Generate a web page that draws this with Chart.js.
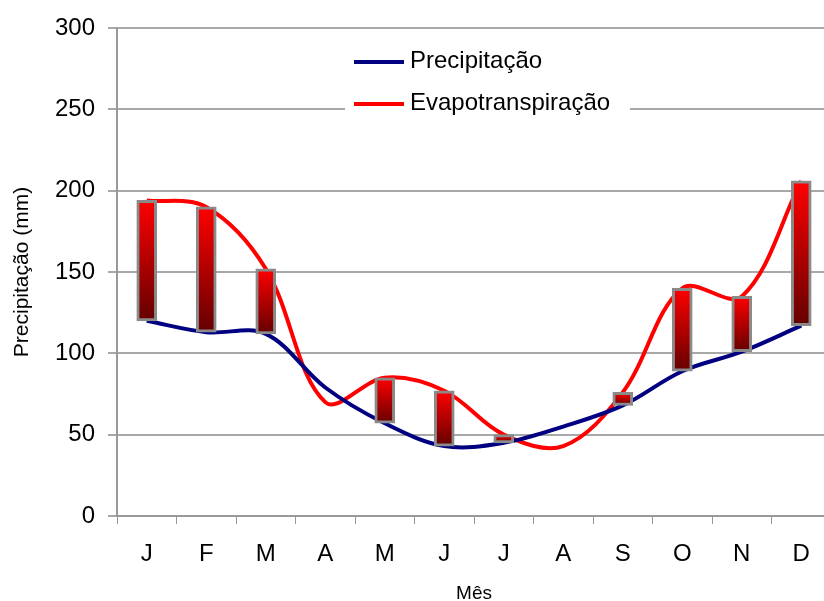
<!DOCTYPE html>
<html>
<head>
<meta charset="utf-8">
<script src="https://cdn.jsdelivr.net/npm/chart.js@4.4.0/dist/chart.umd.min.js"></script>
<style>
    html, body { margin: 0; padding: 0; background: #fff; overflow: hidden; }
    #wrap { width: 834px; height: 610px; }
</style>
</head>
<body>
<div id="wrap"><canvas id="chart" width="834" height="610"></canvas></div>
<script>
const months = ["J", "F", "M", "A", "M", "J", "J", "A", "S", "O", "N", "D"];
const precipitacao = [120, 113, 112, 79, 57, 43, 45, 55, 68, 89, 101, 117];
const evapotranspiracao = [194, 190, 152, 70, 85, 77, 50, 43, 76, 140, 135, 206];
const yTicks = [0, 50, 100, 150, 200, 250, 300];

const fontFamily = "'Liberation Sans', Arial, sans-serif";

// up bars only: where evapotranspiration is above precipitation
const upBars = precipitacao.map((p, i) =>
    evapotranspiracao[i] > p ? [p, evapotranspiracao[i]] : null
);

function barGradient(context) {
    const chart = context.chart;
    if (!chart.chartArea || context.type !== "data" || !context.raw) {
        return "#b00000";
    }
    const y = chart.scales.y;
    const top = y.getPixelForValue(context.raw[1]);
    const bottom = y.getPixelForValue(context.raw[0]);
    const g = chart.ctx.createLinearGradient(0, top, 0, bottom);
    g.addColorStop(0, "#ff0000");
    g.addColorStop(1, "#640000");
    return g;
}

const legendBox = {
    id: "legendBox",
    afterDraw(chart) {
        const ctx = chart.ctx;
        const items = chart.data.datasets.filter(d => d.type === "line");
        ctx.save();
        ctx.fillStyle = "#fff";
        ctx.fillRect(345, 45, 285, 73);
        ctx.font = "24px " + fontFamily;
        ctx.textBaseline = "middle";
        items.forEach((d, i) => {
            const y = 62 + i * 42;
            ctx.strokeStyle = d.borderColor;
            ctx.lineWidth = 4;
            ctx.beginPath();
            ctx.moveTo(354, y);
            ctx.lineTo(404, y);
            ctx.stroke();
            ctx.fillStyle = "#000";
            ctx.fillText(d.label, 410, y - 1);
        });
        ctx.restore();
    }
};

new Chart(document.getElementById("chart"), {
    data: {
        labels: months,
        datasets: [
            {
                type: "bar",
                label: "Diferença",
                data: upBars,
                backgroundColor: barGradient,
                borderColor: "#8a8a8a",
                borderWidth: 3,
                borderSkipped: false,
                barThickness: 20,
                order: 0
            },
            {
                type: "line",
                label: "Precipitação",
                data: precipitacao,
                borderColor: "#000080",
                borderWidth: 4,
                pointRadius: 0,
                tension: 0.35,
                fill: false,
                order: 1
            },
            {
                type: "line",
                label: "Evapotranspiração",
                data: evapotranspiracao,
                borderColor: "#ff0000",
                borderWidth: 4,
                pointRadius: 0,
                tension: 0.35,
                fill: false,
                order: 2
            }
        ]
    },
    options: {
        responsive: false,
        animation: false,
        devicePixelRatio: 1,
        layout: { padding: { top: 28, right: 3, left: 0, bottom: 0 } },
        plugins: {
            legend: { display: false },
            tooltip: { enabled: false }
        },
        scales: {
            x: {
                type: "category",
                offset: true,
                afterFit: scale => { scale.height = 94; },
                grid: {
                    offset: true,
                    drawOnChartArea: false,
                    drawTicks: true,
                    tickLength: 8,
                    color: "#999",
                    lineWidth: 1
                },
                border: { color: "#999", width: 2 },
                ticks: {
                    color: "#000",
                    padding: 16,
                    font: { family: fontFamily, size: 24 }
                },
                title: {
                    display: true,
                    text: "Mês",
                    color: "#000",
                    padding: { top: 5, bottom: 5 },
                    font: { family: fontFamily, size: 19 }
                }
            },
            y: {
                min: 0,
                max: 300,
                afterFit: scale => { scale.width = 117; },
                afterBuildTicks: scale => {
                    scale.ticks = yTicks.map(v => ({ value: v }));
                },
                grid: {
                    color: "#a8a8a8",
                    lineWidth: 2,
                    tickLength: 9
                },
                border: { color: "#999", width: 2 },
                ticks: {
                    color: "#000",
                    padding: 13,
                    font: { family: fontFamily, size: 24 }
                },
                title: {
                    display: true,
                    text: "Precipitação (mm)",
                    color: "#000",
                    padding: { top: 10, bottom: 10 },
                    font: { family: fontFamily, size: 21 }
                }
            }
        }
    },
    plugins: [legendBox]
});
</script>
</body>
</html>
